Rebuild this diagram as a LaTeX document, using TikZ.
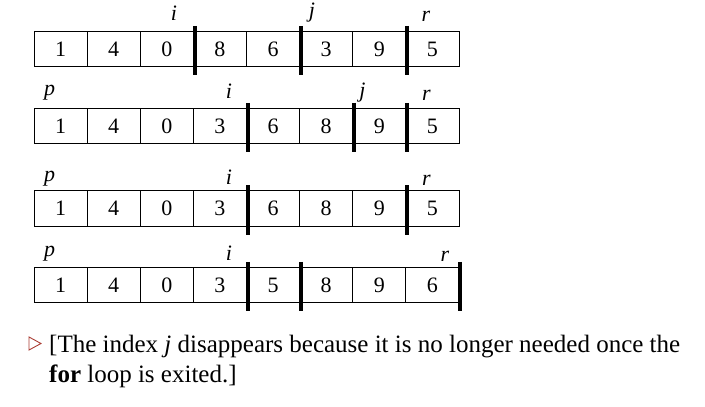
\documentclass[tikz,border=0pt]{standalone}
\usepackage{fontspec}
\setmainfont{Liberation Serif}[BoldFont={Liberation Serif Bold},ItalicFont={Liberation Serif Italic},BoldItalicFont={Liberation Serif Bold Italic}]
\begin{document}
\begin{tikzpicture}[x=1pt,y=-1pt,
  cell/.style={draw,line width=0.8pt,minimum width=53.125pt,minimum height=35.5pt,inner sep=0pt,anchor=center,font=\fontsize{22}{22}\selectfont},
  lbl/.style={inner sep=0pt,anchor=center,font=\fontsize{22}{22}\selectfont\itshape},
  bar/.style={line width=4pt},
  txt/.style={inner sep=0pt,anchor=base west,font=\fontsize{25}{25}\selectfont}]
\useasboundingbox (0,0) rectangle (705,407);
% rows
\foreach \r/\y/\vals in {1/49/{1,4,0,8,6,3,9,5},2/126/{1,4,0,3,6,8,9,5},3/208.5/{1,4,0,3,6,8,9,5},4/285/{1,4,0,3,5,8,9,6}}{
  \foreach \v [count=\c] in \vals {
    \node[cell] (r\r c\c) at ({34+53.125*(\c-0.5)},\y) {\v};
  }
}
% bars
\foreach \r/\cs in {1/{3,5,7},2/{4,6,7},3/{4,7},4/{4,5,8}}{
  \foreach \c in \cs {
    \draw[bar] ([xshift=1pt,yshift=5pt]r\r c\c.north east) -- ([xshift=1pt,yshift=-8pt]r\r c\c.south east);
  }
}
% labels
\node[lbl] (l1i) at (174,13) {i};
\node[lbl] (l1j) at (312,13) {j};
\node[lbl] (l1r) at (426,16.5) {r};
\node[lbl] (l2p) at (49.5,92.5) {p};
\node[lbl] (l2i) at (229,91.5) {i};
\node[lbl] (l2j) at (362.5,93) {j};
\node[lbl] (l2r) at (426.5,95.5) {r};
\node[lbl] (l3p) at (49.5,179) {p};
\node[lbl] (l3i) at (229,177.5) {i};
\node[lbl] (l3r) at (426.5,180) {r};
\node[lbl] (l4p) at (49.5,253.5) {p};
\node[lbl] (l4i) at (229,253) {i};
\node[lbl] (l4r) at (445,256) {r};
% bullet
\draw[line width=0.9pt,draw={rgb,255:red,170;green,60;blue,50},line join=miter] (29,337) -- (41,343.5) -- (29,350) -- cycle;
\node[txt] (t1) at (49,352) {[The index \textit{j} disappears because it is no longer needed once the};
\node[txt] (t2) at (49,382) {\textbf{for} loop is exited.]};
\end{tikzpicture}
\end{document}
